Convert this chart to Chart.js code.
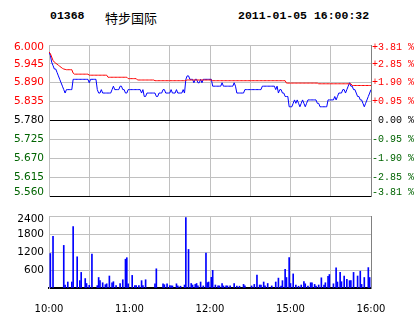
<!DOCTYPE html>
<html>
<head>
<meta charset="utf-8">
<script src="https://cdn.jsdelivr.net/npm/chart.js@4.4.1/dist/chart.umd.min.js"></script>
<style>
  html, body { margin: 0; padding: 0; background: #fff; }
  #wrap { position: relative; width: 414px; height: 314px; overflow: hidden; }
  .hd { position: absolute; white-space: pre; line-height: 14px; color: #000; }
  #code { left: 50px; top: 9px; font: bold 11.5px "Liberation Mono", monospace; }
  #name { left: 105px; top: 8px; font: 13px "Noto Sans CJK SC", sans-serif; }
  #stamp { left: 238px; top: 9px; font: bold 11.5px "Liberation Mono", monospace; }
  #price { position: absolute; left: 0; top: 36px; }
  #vol { position: absolute; left: 0; top: 205px; }
</style>
</head>
<body>
<div id="wrap">
  <div class="hd" id="code">01368</div>
  <div class="hd" id="name">特步国际</div>
  <div class="hd" id="stamp">2011-01-05 16:00:32</div>
  <canvas id="price" width="414" height="172"></canvas>
  <canvas id="vol" width="414" height="109"></canvas>
</div>
<script>
const PREV_CLOSE = 5.78;
const PRICE_TICKS = [6.000, 5.945, 5.890, 5.835, 5.780, 5.725, 5.670, 5.615, 5.560];
const VOL_TICKS = [2400, 1800, 1200, 600, 0];
// minutes after 10:00, lunch break folded out at 150
const TIME_TICKS = [0, 30, 60, 90, 120, 150, 180, 210, 240];
const TIME_LABELS = ['10:00', '', '11:00', '', '12:00', '', '15:00', '', '16:00'];

// last price, one per minute
const PRICE = [
    5.98, 5.97, 5.95, 5.94, 5.93, 5.93, 5.92, 5.91, 5.90, 5.89,
    5.88, 5.87, 5.86, 5.87, 5.87, 5.87, 5.87, 5.87, 5.90, 5.90,
    5.90, 5.90, 5.90, 5.90, 5.90, 5.90, 5.90, 5.90, 5.90, 5.90,
    5.89, 5.90, 5.90, 5.90, 5.90, 5.90, 5.87, 5.86, 5.86, 5.87,
    5.86, 5.86, 5.86, 5.86, 5.86, 5.86, 5.86, 5.87, 5.88, 5.87,
    5.87, 5.87, 5.87, 5.88, 5.88, 5.87, 5.87, 5.86, 5.86, 5.87,
    5.87, 5.87, 5.87, 5.87, 5.87, 5.87, 5.87, 5.87, 5.87, 5.86,
    5.87, 5.85, 5.85, 5.86, 5.86, 5.86, 5.86, 5.86, 5.86, 5.86,
    5.85, 5.85, 5.86, 5.86, 5.86, 5.87, 5.87, 5.86, 5.86, 5.86,
    5.86, 5.87, 5.86, 5.86, 5.86, 5.87, 5.86, 5.86, 5.86, 5.86,
    5.87, 5.86, 5.90, 5.91, 5.91, 5.90, 5.90, 5.90, 5.89, 5.90,
    5.90, 5.89, 5.89, 5.90, 5.89, 5.90, 5.90, 5.90, 5.90, 5.90,
    5.90, 5.90, 5.88, 5.88, 5.88, 5.88, 5.88, 5.88, 5.88, 5.89,
    5.88, 5.88, 5.88, 5.88, 5.88, 5.88, 5.88, 5.88, 5.89, 5.88,
    5.86, 5.86, 5.86, 5.86, 5.86, 5.86, 5.87, 5.87, 5.87, 5.87,
    5.87, 5.87, 5.87, 5.87, 5.87, 5.87, 5.87, 5.87, 5.87, 5.88,
    5.88, 5.88, 5.88, 5.88, 5.88, 5.88, 5.88, 5.88, 5.88, 5.87,
    5.88, 5.86, 5.87, 5.87, 5.86, 5.86, 5.85, 5.85, 5.85, 5.82,
    5.82, 5.82, 5.83, 5.84, 5.83, 5.84, 5.83, 5.82, 5.83, 5.84,
    5.83, 5.82, 5.83, 5.84, 5.84, 5.84, 5.84, 5.84, 5.84, 5.84,
    5.83, 5.83, 5.82, 5.82, 5.82, 5.82, 5.82, 5.82, 5.84, 5.84,
    5.84, 5.84, 5.84, 5.85, 5.84, 5.85, 5.86, 5.86, 5.86, 5.87,
    5.87, 5.86, 5.87, 5.88, 5.89, 5.88, 5.88, 5.87, 5.87, 5.86,
    5.85, 5.85, 5.84, 5.84, 5.83, 5.82, 5.83, 5.84, 5.85, 5.86,
    5.87,
];

// average price, one per minute
const AVG = [
    5.980, 5.975, 5.965, 5.955, 5.950, 5.947, 5.944, 5.941, 5.938, 5.935,
    5.932, 5.930, 5.929, 5.928, 5.928, 5.928, 5.928, 5.928, 5.918, 5.915,
    5.915, 5.915, 5.915, 5.915, 5.915, 5.915, 5.915, 5.915, 5.915, 5.915,
    5.912, 5.912, 5.912, 5.912, 5.912, 5.912, 5.912, 5.912, 5.912, 5.912,
    5.912, 5.912, 5.912, 5.912, 5.906, 5.906, 5.906, 5.906, 5.906, 5.906,
    5.906, 5.906, 5.906, 5.906, 5.906, 5.906, 5.906, 5.906, 5.906, 5.902,
    5.902, 5.902, 5.902, 5.902, 5.902, 5.902, 5.898, 5.898, 5.898, 5.898,
    5.898, 5.898, 5.898, 5.898, 5.898, 5.898, 5.898, 5.898, 5.898, 5.896,
    5.896, 5.896, 5.896, 5.896, 5.896, 5.896, 5.896, 5.896, 5.896, 5.896,
    5.896, 5.896, 5.896, 5.896, 5.896, 5.896, 5.896, 5.896, 5.896, 5.896,
    5.896, 5.896, 5.897, 5.898, 5.898, 5.898, 5.898, 5.898, 5.898, 5.898,
    5.898, 5.898, 5.898, 5.898, 5.898, 5.898, 5.898, 5.898, 5.898, 5.898,
    5.898, 5.898, 5.896, 5.896, 5.896, 5.896, 5.896, 5.896, 5.896, 5.896,
    5.896, 5.896, 5.896, 5.896, 5.896, 5.896, 5.896, 5.896, 5.896, 5.896,
    5.896, 5.896, 5.896, 5.896, 5.896, 5.896, 5.896, 5.896, 5.896, 5.896,
    5.896, 5.896, 5.896, 5.896, 5.896, 5.896, 5.896, 5.896, 5.896, 5.896,
    5.896, 5.896, 5.896, 5.896, 5.896, 5.896, 5.896, 5.896, 5.896, 5.896,
    5.896, 5.896, 5.896, 5.896, 5.896, 5.896, 5.896, 5.889, 5.889, 5.889,
    5.889, 5.889, 5.889, 5.889, 5.889, 5.889, 5.889, 5.889, 5.889, 5.889,
    5.889, 5.889, 5.889, 5.889, 5.889, 5.889, 5.889, 5.889, 5.889, 5.889,
    5.889, 5.887, 5.887, 5.887, 5.887, 5.887, 5.887, 5.887, 5.887, 5.887,
    5.887, 5.887, 5.887, 5.887, 5.887, 5.887, 5.887, 5.887, 5.887, 5.887,
    5.887, 5.887, 5.887, 5.887, 5.887, 5.887, 5.882, 5.882, 5.882, 5.882,
    5.882, 5.882, 5.882, 5.882, 5.882, 5.882, 5.882, 5.882, 5.882, 5.882,
    5.882,
];

// volume bars: minute and shares (hundreds)
const VOL_MIN = [
    1, 3, 11, 12, 14, 17, 18, 21, 23, 24, 27, 28, 30, 32, 36, 37, 38, 40, 42, 43,
    45, 47, 48, 50, 53, 55, 57, 58, 59, 62, 64, 65, 67, 69, 70, 72, 79, 80, 85, 86,
    88, 90, 91, 92, 95, 96, 98, 101, 102, 104, 106, 107, 109, 110, 111, 113, 115, 117, 118, 119,
    121, 122, 124, 126, 127, 129, 130, 132, 133, 135, 138, 140, 142, 145, 146, 151, 153, 155, 157, 158,
    160, 161, 163, 166, 169, 171, 173, 174, 176, 177, 179, 180, 182, 184, 186, 188, 190, 191, 193, 195,
    196, 198, 199, 201, 203, 205, 206, 208, 209, 212, 214, 215, 217, 218, 220, 222, 224, 225, 227, 230,
    232, 233, 235, 238, 239,
];
const VOL_QTY = [
    1150, 1720, 1420, 100, 200, 200, 2050, 1040, 245, 520, 315, 150, 90, 1130, 80, 350, 245, 175, 110, 140,
    400, 175, 210, 80, 150, 275, 960, 1010, 140, 420, 80, 80, 80, 245, 80, 275, 140, 640, 140, 110,
    140, 80, 70, 70, 140, 70, 60, 100, 2350, 1285, 150, 100, 120, 150, 70, 200, 70, 1160, 180, 200,
    355, 590, 100, 70, 70, 150, 70, 70, 70, 70, 150, 60, 60, 120, 70, 70, 120, 430, 100, 100,
    200, 70, 150, 70, 200, 330, 60, 245, 620, 350, 1010, 150, 470, 100, 60, 100, 210, 140, 60, 175,
    175, 120, 60, 100, 340, 100, 175, 390, 450, 140, 670, 200, 520, 210, 400, 290, 245, 245, 520, 400,
    560, 120, 350, 680, 350,
];

const GRID = '#c0c0c0';
const EDGE = '#808080';
const UP = '#ff0000';
const DOWN = '#006400';
const FONT = 'DejaVu Sans';
const MONO = 'Liberation Mono';
const LEFT_W = 49;
const RIGHT_W = 43;

Chart.defaults.font.family = FONT;

const fixWidth = w => scale => { scale.width = w; };
const setTicks = values => scale => {
    scale.ticks = values.slice().sort((a, b) => a - b).map(value => ({ value }));
};

// first and last labels sit inside the panel, nudged via a blank second line
const edgeLabel = (text, i, count) => {
    if (i === count - 1) return ['', text];
    if (i === 0) return [text, ''];
    return text;
};
const edgeFont = (family, size, down, up, count) => ctx => {
    let lineHeight = '12px';
    if (ctx.index === count - 1) lineHeight = down * 2 + 'px';
    if (ctx.index === 0) lineHeight = up * 2 + 'px';
    return { family, size, lineHeight };
};

const priceColor = v => {
    if (v > PREV_CLOSE + 1e-6) return UP;
    if (v < PREV_CLOSE - 1e-6) return DOWN;
    return '#000';
};

const pctLabel = v => {
    const p = (v - PREV_CLOSE) / PREV_CLOSE * 100;
    const sign = p > 0.001 ? '+' : p < -0.001 ? '-' : ' ';
    return sign + Math.abs(p).toFixed(2) + ' %';
};

const common = {
    responsive: false,
    animation: false,
    events: [],
    plugins: { legend: { display: false }, tooltip: { enabled: false } },
};

new Chart(document.getElementById('price'), {
    type: 'line',
    data: {
        datasets: [{
            data: AVG.map((y, x) => ({ x, y })),
            borderColor: UP,
            borderWidth: 1,
            pointRadius: 0,
            order: 0,
        }, {
            data: PRICE.map((y, x) => ({ x, y })),
            borderColor: '#0000ff',
            borderWidth: 1,
            pointRadius: 0,
            order: 1,
        }],
    },
    options: {
        ...common,
        layout: { padding: { top: 9, bottom: 5, left: 0, right: 0 } },
        scales: {
            x: {
                type: 'linear',
                min: 0,
                max: 240,
                afterBuildTicks: setTicks(TIME_TICKS),
                afterFit: scale => { scale.height = 0; },
                border: { display: false },
                grid: { color: GRID, drawTicks: false },
                ticks: { display: false },
            },
            y: {
                position: 'left',
                min: 5.56,
                max: 6.0,
                afterBuildTicks: setTicks(PRICE_TICKS),
                afterFit: fixWidth(LEFT_W),
                border: { color: GRID },
                grid: {
                    drawTicks: false,
                    color: ctx => (ctx.index === 0 || Math.abs(ctx.tick.value - PREV_CLOSE) < 1e-6) ? '#000' : GRID,
                },
                ticks: {
                    padding: 5,
                    color: ctx => priceColor(ctx.tick.value),
                    font: edgeFont(FONT, 10.5, 2, 3.5, PRICE_TICKS.length),
                    callback: (v, i, t) => edgeLabel(v.toFixed(3), i, t.length),
                },
            },
            y2: {
                position: 'right',
                min: 5.56,
                max: 6.0,
                afterBuildTicks: setTicks(PRICE_TICKS),
                afterFit: fixWidth(RIGHT_W),
                border: { color: EDGE },
                grid: { display: false, drawTicks: false },
                ticks: {
                    padding: 1,
                    color: ctx => priceColor(ctx.tick.value),
                    font: edgeFont(MONO, 10, 2, 3.5, PRICE_TICKS.length),
                    callback: (v, i, t) => edgeLabel(pctLabel(v), i, t.length),
                },
            },
        },
    },
});

new Chart(document.getElementById('vol'), {
    type: 'bar',
    data: {
        datasets: [{
            data: VOL_MIN.map((x, i) => ({ x, y: VOL_QTY[i] })),
            backgroundColor: '#0000ff',
            borderWidth: 0,
            barThickness: 1,
        }],
    },
    options: {
        ...common,
        layout: { padding: { top: 5, bottom: 0, left: 0, right: 0 } },
        scales: {
            x: {
                type: 'linear',
                min: 0,
                max: 240,
                offset: false,
                afterBuildTicks: setTicks(TIME_TICKS),
                afterFit: scale => { scale.height = 26; },
                border: { color: '#000', width: 2 },
                grid: { color: GRID, drawTicks: false, offset: false },
                ticks: {
                    padding: 15,
                    color: '#000',
                    font: { family: FONT, size: 10 },
                    maxRotation: 0,
                    autoSkip: false,
                    callback: (v, i) => TIME_LABELS[i],
                },
            },
            y: {
                position: 'left',
                min: 0,
                max: 2400,
                afterBuildTicks: setTicks(VOL_TICKS),
                afterFit: fixWidth(LEFT_W),
                border: { color: GRID },
                grid: { color: GRID, drawTicks: false },
                ticks: {
                    padding: 5,
                    color: '#000',
                    font: edgeFont(FONT, 10.5, 3, 0, VOL_TICKS.length),
                    callback: (v, i, t) => i === 0 ? '' : edgeLabel(String(v), i, t.length),
                },
            },
            y2: {
                position: 'right',
                min: 0,
                max: 2400,
                afterFit: fixWidth(RIGHT_W),
                border: { color: EDGE },
                grid: { display: false, drawTicks: false },
                ticks: { display: false },
            },
        },
    },
});
</script>
</body>
</html>
